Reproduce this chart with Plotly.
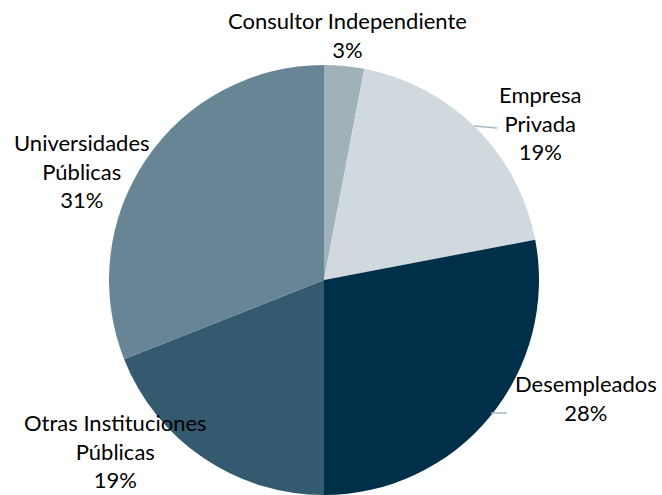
import plotly.graph_objects as go

# Datos
categorias = ['Consultor Independiente', 'Empresa Privada', 'Desempleados',
              'Otras Instituciones Públicas', 'Universidades Públicas']
valores = [3, 19, 28, 19, 31]
colores = ['#9fb1b9', '#d0d9de', '#003049', '#345a70', '#678594']

# Etiquetas (texto, x, y en píxeles desde arriba-izquierda)
etiquetas = [
    ('Consultor Independiente<br>3%', 348, 35),
    ('Empresa<br>Privada<br>19%', 540, 123),
    ('Desempleados<br>28%', 586, 398),
    ('Otras Instituciones<br>Públicas<br>19%', 115, 451),
    ('Universidades<br>Públicas<br>31%', 82, 171),
]

W, H = 662, 495


def px(x):
    return x / W


def py(y):
    return 1 - y / H


fig = go.Figure()

fig.add_trace(go.Pie(
    labels=categorias,
    values=valores,
    marker=dict(colors=colores, line=dict(width=0)),
    sort=False,
    direction='clockwise',
    rotation=0,
    textinfo='none',
    hoverinfo='label+percent',
    domain=dict(x=[109 / W, 539 / W], y=[0, 430 / H]),
    showlegend=False,
))

for texto, x, y in etiquetas:
    fig.add_annotation(
        text=texto, x=px(x), y=py(y), xref='paper', yref='paper',
        showarrow=False, xanchor='center', yanchor='middle',
        font=dict(family='Lato, Open Sans, sans-serif', size=22, color='#000000'),
    )

# Líneas guía
for x0, y0, x1, y1 in [(474, 126, 497, 128), (491, 413, 507, 413)]:
    fig.add_shape(type='line', xref='paper', yref='paper',
                  x0=px(x0), y0=py(y0), x1=px(x1), y1=py(y1),
                  line=dict(color='#a9b7c0', width=1.5))

fig.update_layout(
    width=W, height=H,
    margin=dict(l=0, r=0, t=0, b=0),
    paper_bgcolor='white',
    plot_bgcolor='white',
)

# Sin margen en el body para que la figura ocupe toda la ventana
fig.write_html('out.html',
               config={'displayModeBar': False},
               post_script="document.body.style.margin='0';"
                           "document.body.style.overflow='hidden';")
